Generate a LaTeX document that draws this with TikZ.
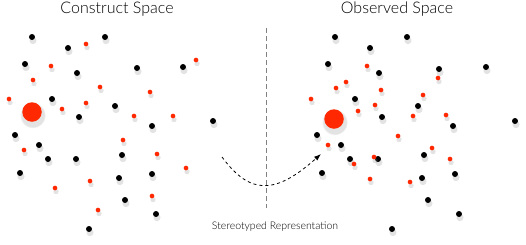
\documentclass[tikz,border=0pt]{standalone}
\usepackage{fontspec}
\setmainfont{Lato}
\newfontfamily\titlefont{Lato Light}
\usetikzlibrary{arrows.meta,shadows}
\definecolor{dotred}{RGB}{255,40,0}

\begin{document}
\begin{tikzpicture}[x=1pt,y=-1pt,
	dotshadow/.style={circular drop shadow={shadow xshift=0.5pt,shadow yshift=-2.4pt,
		shadow scale=1.35,opacity=0.22}},
	blackdot/.style={circle,fill=black,inner sep=0pt,minimum size=6pt,dotshadow},
	reddot/.style={circle,fill=dotred,inner sep=0pt,minimum size=4.7pt,dotshadow},
	bigdot/.style={circle,fill=dotred,inner sep=0pt,minimum size=19.5pt,dotshadow},
	title/.style={font=\titlefont\fontsize{16}{18}\selectfont},
	arr/.style={-{Latex[length=7pt,width=5pt]},dashed,thick}]
	\useasboundingbox (0,0) rectangle (526,244);
	% titles
	\node[title] (construct) at (117,9) {Construct Space};
	\node[title] (observed) at (397,9) {Observed Space};
	\node[font=\titlefont\fontsize{10.5}{12}\selectfont] (stereo) at (275,227) {Stereotyped Representation};
	% divider
	\coordinate (divtop) at (266,28);
	\coordinate (divbot) at (266,208);
	\draw[gray,semithick,dash pattern=on 5pt off 3pt] (divtop) -- (divbot);
	% construct space
	\foreach \x/\y in {32/37,68/48,105/37,25/64,77/73,137/68,183/67,52/99,115/106,79/117,
		213/121,152/126,15/135,39/145,48/159,76/159,122/155,20/173,119/178,152/174,125/200,
		156/214,89/229}
		\node[blackdot] at (\x,\y) {};
	\foreach \x/\y in {86/44,51/66,33/80,100/87,196/60,150/92,9/99,62/109,86/103,134/116,
		173/116,123/140,24/150,157/154,186/168,55/188,90/181,152/196,98/210}
		\node[reddot] at (\x,\y) {};
	\node[bigdot] (cbig) at (32,112) {};
	% observed space
	\foreach \x/\y in {335/37,370/48,407/37,328/64,379/73,439/69,486/67,355/99,418/106,
		382/117,515/121,453/126,317/135,341/145,350/159,378/159,424/155,322/173,422/178,
		455/174,428/200,459/214,392/229}
		\node[blackdot] at (\x,\y) {};
	\foreach \x/\y in {367/66,346/82,336/88,381/90,438/78,311/99,423/95,358/111,375/105,
		413/116,446/115,398/136,328/145,432/148,374/157,450/159,354/164,370/179,410/182}
		\node[reddot] at (\x,\y) {};
	\node[bigdot] (obig) at (334,119) {};
	% mapping
	\coordinate (from) at (222,157);
	\coordinate (to) at (321,154);
	\draw[arr] (from) .. controls (250,195) and (275,195) .. (to);
\end{tikzpicture}
\end{document}
